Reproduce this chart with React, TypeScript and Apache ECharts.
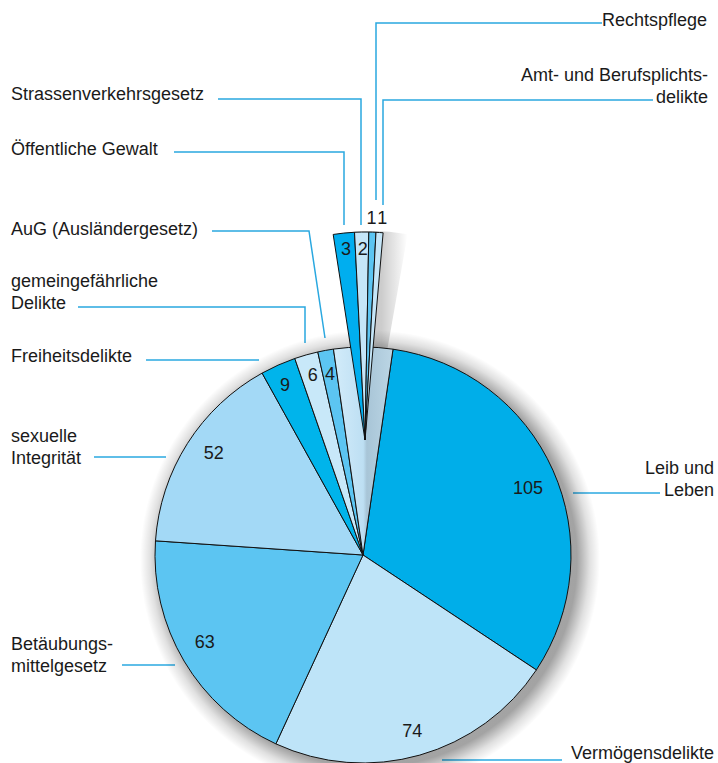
import React, { useEffect, useRef } from "react";
import * as echarts from "echarts";

// ---------------- data ----------------
const mainCategories = [
  "Leib und\nLeben",
  "Vermögensdelikte",
  "Betäubungs-\nmittelgesetz",
  "sexuelle\nIntegrität",
  "Freiheitsdelikte",
  "gemeingefährliche\nDelikte",
  "AuG (Ausländergesetz)",
  "Übrige",
];
const mainValues = [105, 74, 63, 52, 9, 6, 4, 15];
const mainValueShown = [true, true, true, true, true, true, true, false];

const detailCategories = [
  "Öffentliche Gewalt",
  "Strassenverkehrsgesetz",
  "Rechtspflege",
  "Amt- und Berufsplichts-\ndelikte",
];
const detailValues = [3, 2, 1, 1];

// ---------------- styles / layout ----------------
const otherFill = {
  type: "linear",
  x: 0,
  y: 0,
  x2: 1,
  y2: 0,
  colorStops: [
    { offset: 0, color: "#d3ecfa" },
    { offset: 0.5, color: "#bddff3" },
    { offset: 0.56, color: "#a8c5d7" },
    { offset: 1, color: "#bcd6e5" },
  ],
};
const mainColors: any[] = ["#00aee9", "#bee4f8", "#5cc5f2", "#a3d9f6", "#00b4eb", "#c8e8f9", "#5cc5f2", otherFill];
const detailColors = ["#00aeef", "#c5e6f8", "#5cc5f2", "#c5e6f8"];

const FONT = "'Liberation Sans', Arial, Helvetica, sans-serif";
const TEXT = "#1a1a1a";
const LEADER = "#2aa8e0";
const MAIN_CENTER = [363, 555];
const RADIUS = 208;
const MAIN_START = 81.7;
const DETAIL_CENTER = [365, 440];
const DETAIL_START = 98.8;
const DETAIL_END = 85;

type LL = { x: number; y: number; align: string; line: number[][]; lh?: number } | null;

const MAIN_LABELS: LL[] = [
  { x: 714, y: 479, align: "right", line: [[660, 493], [616, 493], [573, 493]] },
  { x: 714, y: 753, align: "right", line: [[562, 760], [502, 760], [442, 760]], lh: 18 },
  { x: 11, y: 655, align: "left", line: [[122, 665], [148, 665], [175, 665]] },
  { x: 11, y: 447, align: "left", line: [[94, 457], [130, 457], [166, 457]] },
  { x: 11, y: 356, align: "left", line: [[146, 360], [202, 360], [259, 360]] },
  { x: 11, y: 292, align: "left", line: [[78, 307], [305, 307], [305, 343]] },
  { x: 11, y: 229, align: "left", line: [[212, 231], [309, 231], [325, 338]] },
  null,
];
const MAIN_VALUE_OFFSETS = [[-3, 8], [-1, -1], [0, -7], [6, -3], [-3, -2], [0, -3], [0, 0], [0, 0]];

const DETAIL_LABELS: LL[] = [
  { x: 11, y: 149, align: "left", line: [[174, 152], [344, 152], [344, 225]] },
  { x: 11, y: 94, align: "left", line: [[218, 99], [361, 99], [361, 225]] },
  { x: 707, y: 20, align: "right", line: [[602, 23], [376, 23], [376, 200]] },
  { x: 708, y: 86, align: "right", line: [[653, 100], [383, 100], [383, 205]] },
];
const DETAIL_VALUE_OFFSETS = [[1, 4], [1, 5], [-0.5, -26], [3.5, -26]];

const labelText = {
  fontFamily: FONT,
  fontSize: 18,
  color: TEXT,
  lineHeight: 22,
};

function layoutFrom(list: LL[]) {
  return (p: any) => {
    const L = list[p.dataIndex];
    if (!L) return {};
    return {
      x: L.x,
      y: L.y,
      align: L.align,
      verticalAlign: "middle",
      labelLinePoints: L.line,
      hideOverlap: false,
    };
  };
}

const sum = (a: number[]) => a.reduce((s, v) => s + v, 0);

export default function App() {
  const ref = useRef<HTMLDivElement>(null);

  useEffect(() => {
    if (!ref.current) return;
    const chart = echarts.init(ref.current, undefined, { renderer: "svg" });

    const mainData = mainCategories.map((name, i) => {
      const L = MAIN_LABELS[i];
      return {
        name,
        value: mainValues[i],
        itemStyle: { color: mainColors[i] },
        label: L ? { show: true, lineHeight: L.lh || 22 } : { show: false },
        labelLine: { show: !!L },
      };
    });

    const mainValueData = mainCategories.map((name, i) => ({
      name,
      value: mainValues[i],
      label: { show: mainValueShown[i], offset: MAIN_VALUE_OFFSETS[i] },
    }));

    const detailData = detailCategories.map((name, i) => ({
      name,
      value: detailValues[i],
      itemStyle: { color: detailColors[i] },
    }));

    const detailValueData = detailCategories.map((name, i) => ({
      name,
      value: detailValues[i],
      label: { offset: DETAIL_VALUE_OFFSETS[i] },
    }));

    const transparentItem = {
      color: "rgba(0,0,0,0)",
      borderWidth: 0,
    };

    chart.setOption({
      animation: false,
      backgroundColor: "#ffffff",
      series: [
        // soft shadow of the main pie
        {
          type: "pie",
          silent: true,
          center: [MAIN_CENTER[0] + 7, MAIN_CENTER[1] + 5],
          radius: RADIUS + 22,
          label: { show: false },
          labelLine: { show: false },
          itemStyle: {
            borderWidth: 0,
            color: {
              type: "radial",
              x: 0.5,
              y: 0.5,
              r: 0.5,
              colorStops: [
                { offset: 0, color: "rgba(0,0,0,0.36)" },
                { offset: 0.9, color: "rgba(0,0,0,0.36)" },
                { offset: 0.955, color: "rgba(0,0,0,0.12)" },
                { offset: 1, color: "rgba(0,0,0,0)" },
              ],
            },
          },
          data: [{ name: "Total", value: sum(mainValues) }],
        },
        // soft shadow of the detail wedge
        {
          type: "pie",
          silent: true,
          center: [DETAIL_CENTER[0] + 6, DETAIL_CENTER[1] + 2],
          radius: RADIUS + 3,
          startAngle: DETAIL_START,
          endAngle: DETAIL_END - 5,
          label: { show: false },
          labelLine: { show: false },
          itemStyle: {
            borderWidth: 0,
            color: {
              type: "linear",
              x: 0,
              y: 0,
              x2: 1,
              y2: 0,
              colorStops: [
                { offset: 0, color: "rgba(0,0,0,0.24)" },
                { offset: 0.62, color: "rgba(0,0,0,0.2)" },
                { offset: 1, color: "rgba(0,0,0,0)" },
              ],
            },
          },
          data: [{ name: "Übrige gesamt", value: sum(detailValues) }],
        },
        // main pie
        {
          type: "pie",
          silent: true,
          center: MAIN_CENTER,
          radius: RADIUS,
          startAngle: MAIN_START,
          clockwise: true,
          avoidLabelOverlap: false,
          itemStyle: { borderColor: "#111111", borderWidth: 1 },
          label: {
            ...labelText,
            position: "outside",
            formatter: (p: any) => p.name,
            width: 400,
            overflow: "none",
          },
          labelLine: {
            show: true,
            length: 10,
            length2: 10,
            lineStyle: { color: LEADER, width: 1.5 },
          },
          labelLayout: layoutFrom(MAIN_LABELS),
          data: mainData,
        },
        // main pie value labels
        {
          type: "pie",
          silent: true,
          center: MAIN_CENTER,
          radius: [154, RADIUS],
          startAngle: MAIN_START,
          itemStyle: transparentItem,
          label: {
            ...labelText,
            position: "inside",
            formatter: (p: any) => String(p.value),
          },
          labelLine: { show: false },
          labelLayout: { hideOverlap: false },
          data: mainValueData,
        },
        // detail wedge
        {
          type: "pie",
          silent: true,
          center: DETAIL_CENTER,
          radius: RADIUS,
          startAngle: DETAIL_START,
          endAngle: DETAIL_END,
          clockwise: true,
          avoidLabelOverlap: false,
          itemStyle: { borderColor: "#111111", borderWidth: 1 },
          label: {
            ...labelText,
            position: "outside",
            formatter: (p: any) => p.name,
            width: 400,
            overflow: "none",
          },
          labelLine: {
            show: true,
            length: 10,
            length2: 10,
            lineStyle: { color: LEADER, width: 1.5 },
          },
          labelLayout: layoutFrom(DETAIL_LABELS),
          data: detailData,
        },
        // detail wedge value labels
        {
          type: "pie",
          silent: true,
          center: DETAIL_CENTER,
          radius: [178, RADIUS],
          startAngle: DETAIL_START,
          endAngle: DETAIL_END,
          itemStyle: transparentItem,
          label: {
            ...labelText,
            position: "inside",
            formatter: (p: any) => String(p.value),
          },
          labelLine: { show: false },
          labelLayout: { hideOverlap: false },
          data: detailValueData,
        },
      ],
    });

    return () => chart.dispose();
  }, []);

  return (
    <div
      ref={ref}
      style={{ position: "fixed", left: 0, top: 0, width: 718, height: 763, background: "#fff" }}
    />
  );
}
